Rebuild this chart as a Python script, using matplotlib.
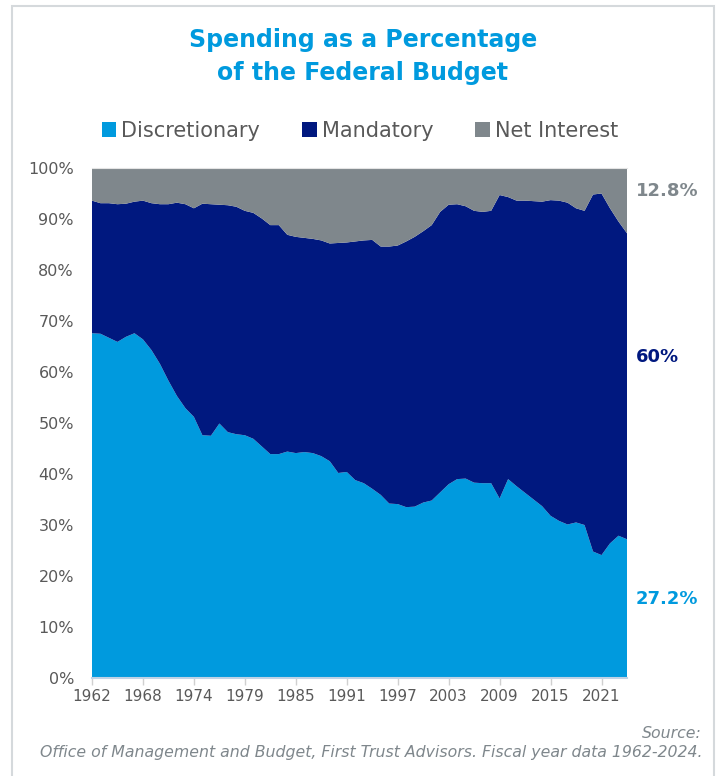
import matplotlib
matplotlib.use("Agg")
import matplotlib.pyplot as plt
from matplotlib.patches import Patch, Rectangle
import numpy as np

# fiscal years, with the 1976 transition quarter as its own category
categories = ["1962", "1963", "1964", "1965", "1966", "1967", "1968", "1969",
              "1970", "1971", "1972", "1973", "1974", "1975", "1976", "TQ",
              "1977", "1978", "1979", "1980", "1981", "1982", "1983", "1984",
              "1985", "1986", "1987", "1988", "1989", "1990", "1991", "1992",
              "1993", "1994", "1995", "1996", "1997", "1998", "1999", "2000",
              "2001", "2002", "2003", "2004", "2005", "2006", "2007", "2008",
              "2009", "2010", "2011", "2012", "2013", "2014", "2015", "2016",
              "2017", "2018", "2019", "2020", "2021", "2022", "2023", "2024"]

# shares of total outlays, %
discretionary = [67.6, 67.5, 66.7, 65.9, 66.9, 67.6, 66.4, 64.3,
                 61.6, 58.3, 55.3, 52.9, 51.2, 47.6, 47.5, 49.9,
                 48.2, 47.8, 47.6, 46.9, 45.4, 43.9, 43.9, 44.4,
                 44.1, 44.3, 44.1, 43.5, 42.5, 40.2, 40.4, 38.8,
                 38.2, 37.1, 35.9, 34.2, 34.1, 33.5, 33.6, 34.4,
                 34.8, 36.4, 38.0, 39.0, 39.1, 38.3, 38.2, 38.2,
                 35.2, 39.0, 37.6, 36.3, 35.0, 33.7, 31.8, 30.8,
                 30.1, 30.5, 30.0, 24.8, 24.1, 26.4, 27.9, 27.2]
mandatory = [26.0, 25.6, 26.4, 27.0, 26.1, 25.8, 27.2, 28.8,
             31.3, 34.6, 37.9, 40.0, 40.9, 45.4, 45.4, 42.9,
             44.5, 44.6, 44.0, 44.3, 44.7, 44.9, 44.9, 42.5,
             42.4, 42.0, 42.0, 42.3, 42.7, 45.1, 45.0, 46.8,
             47.6, 48.8, 48.7, 50.4, 50.7, 52.1, 52.9, 53.2,
             54.0, 55.0, 54.8, 53.9, 53.4, 53.3, 53.2, 53.4,
             59.5, 55.3, 56.0, 57.3, 58.5, 59.7, 61.9, 62.8,
             63.1, 61.6, 61.6, 70.0, 70.9, 65.7, 61.6, 60.0]
net_interest = [6.4, 6.9, 6.9, 7.1, 7.0, 6.6, 6.4, 6.9,
                7.1, 7.1, 6.8, 7.1, 7.9, 7.0, 7.1, 7.2,
                7.3, 7.6, 8.4, 8.8, 9.9, 11.2, 11.2, 13.1,
                13.5, 13.7, 13.9, 14.2, 14.8, 14.7, 14.6, 14.4,
                14.2, 14.1, 15.4, 15.4, 15.2, 14.4, 13.5, 12.4,
                11.2, 8.6, 7.2, 7.1, 7.5, 8.4, 8.6, 8.4,
                5.3, 5.7, 6.4, 6.4, 6.5, 6.6, 6.3, 6.4,
                6.8, 7.9, 8.4, 5.2, 5.0, 7.9, 10.5, 12.8]

series_names = ["Discretionary", "Mandatory", "Net Interest"]
end_labels = ["27.2%", "60%", "12.8%"]

c_disc = "#009ADE"
c_mand = "#00187F"
c_net = "#7F878C"
colours = [c_disc, c_mand, c_net]
txt_grey = "#595959"

plt.rcParams['font.family'] = ['DejaVu Sans']

fig = plt.figure(figsize=(7.17, 7.76), dpi=100)

# light outer frame (runs off the bottom of the picture)
fig.patches.append(Rectangle((12/717, -0.1), (714-12)/717, 1.1 - 6/776,
                             transform=fig.transFigure, fill=False,
                             edgecolor="#D5D9DC", linewidth=1.5))

ax = fig.add_axes([92/717, 1-678/776, 535/717, 510/776])

x = np.arange(len(categories))
ax.stackplot(x, discretionary, mandatory, net_interest, colors=colours,
             linewidth=0)

ax.set_xlim(0, len(categories) - 1)
ax.set_ylim(0, 100)

tick_pos = x[::6]
ax.set_xticks(tick_pos)
ax.set_xticklabels([categories[i] for i in tick_pos])
ax.set_yticks(np.arange(0, 101, 10))
ax.set_yticklabels(["{}%".format(v) for v in range(0, 101, 10)])
ax.tick_params(axis='x', colors="#D0D0D0", labelcolor=txt_grey, labelsize=11,
               length=5, width=1, pad=3)
ax.tick_params(axis='y', length=0, labelcolor=txt_grey, labelsize=11.5, pad=13)

for s in ["left", "right"]:
    ax.spines[s].set_visible(False)
ax.spines["top"].set_color("#E4E4E4")
ax.spines["bottom"].set_color("#BFD3E6")
ax.spines["bottom"].set_linewidth(1.5)

# end-of-series labels
ax.text(1.016, 0.154, end_labels[0], transform=ax.transAxes, color=c_disc,
        fontsize=13, fontweight='bold', va='center', ha='left')
ax.text(1.016, 0.629, end_labels[1], transform=ax.transAxes, color=c_mand,
        fontsize=13, fontweight='bold', va='center', ha='left')
ax.text(1.016, 0.955, end_labels[2], transform=ax.transAxes, color=c_net,
        fontsize=13, fontweight='bold', va='center', ha='left')

fig.text(0.506, 1-40/776, "Spending as a Percentage", color=c_disc,
         fontsize=17, fontweight='bold', ha='center', va='center')
fig.text(0.506, 1-73/776, "of the Federal Budget", color=c_disc,
         fontsize=17, fontweight='bold', ha='center', va='center')

handles = [Patch(facecolor=c, edgecolor='none') for c in colours]
leg = fig.legend(handles, series_names, loc='center', ncol=3, frameon=False,
                 bbox_to_anchor=(0.502, 1-131/776), fontsize=15,
                 handlelength=0.7, handleheight=0.7, handletextpad=0.25,
                 columnspacing=2.0)
for t in leg.get_texts():
    t.set_color(txt_grey)

fig.text(702/717, 1-733/776, "Source:", color="#7F878C", fontsize=11.3,
         style='italic', ha='right', va='center')
fig.text(702/717, 1-752/776,
         "Office of Management and Budget, First Trust Advisors. Fiscal year data 1962-2024.",
         color="#7F878C", fontsize=11.3, style='italic', ha='right', va='center')

fig.savefig("out.png", dpi=100)
